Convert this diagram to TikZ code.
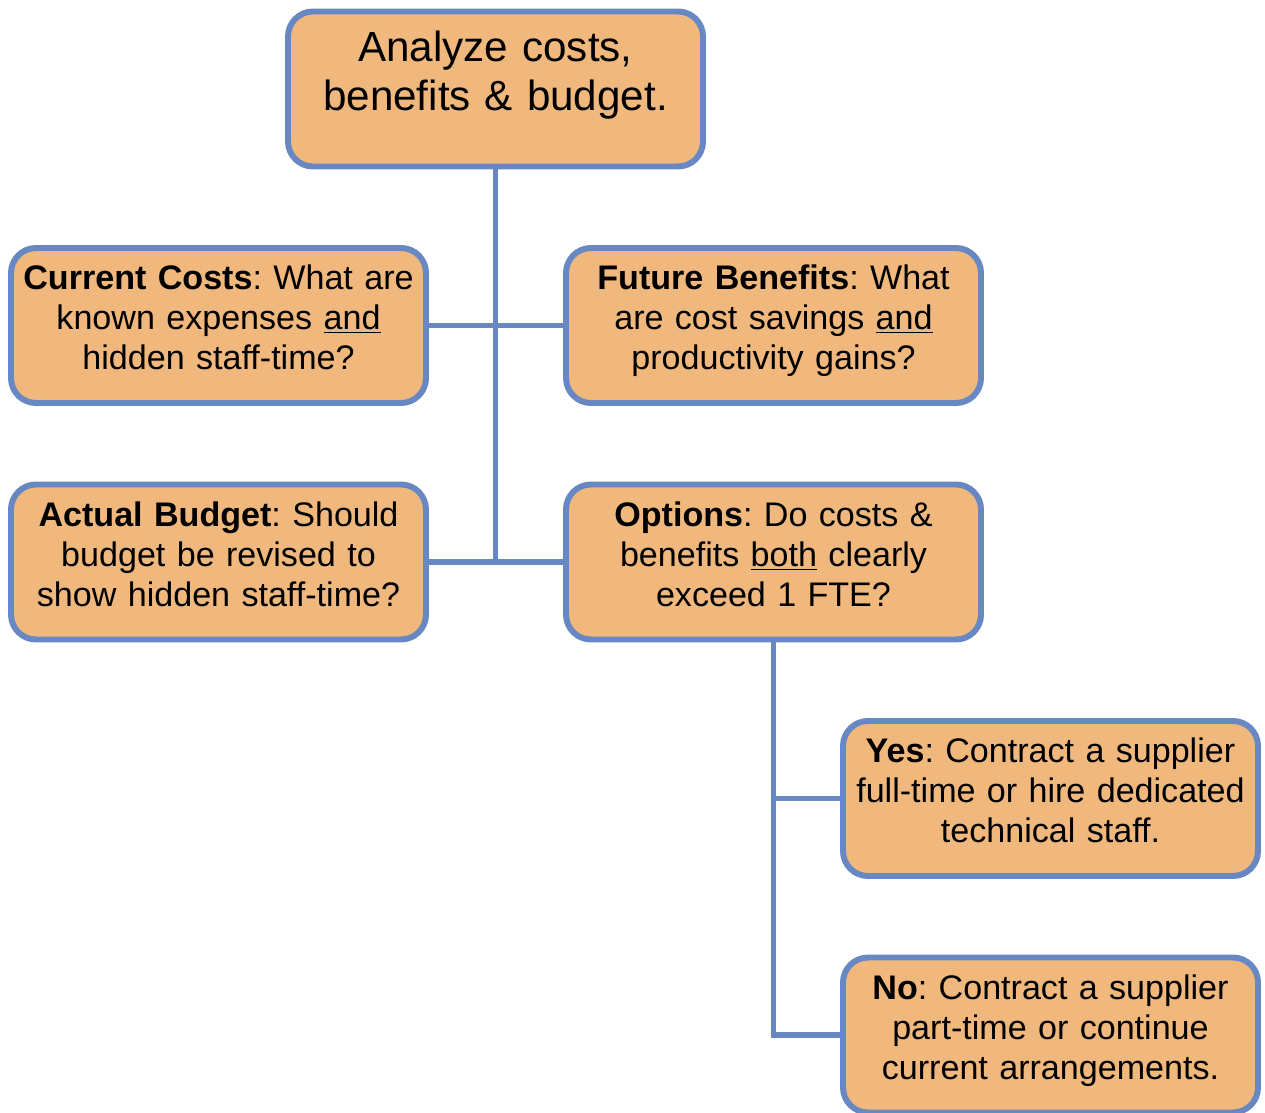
\documentclass[tikz,border=0pt]{standalone}
\usepackage{fontspec}
\setmainfont{Liberation Sans}
\usepackage{tikz}
\definecolor{boxfill}{RGB}{240,184,124}
\definecolor{boxline}{RGB}{104,136,196}
\frenchspacing

\begin{document}
\begin{tikzpicture}[
    box/.style={draw=boxline,fill=boxfill,line width=3.4pt,rounded corners=0.5cm,
      minimum width=8.3cm,minimum height=3.1cm,text width=8.1cm,align=center,
      inner xsep=0.05cm,text depth=1.93cm,font=\fontsize{19.4pt}{22.8pt}\selectfont},
    link/.style={draw=boxline,line width=3.4pt}]
  \useasboundingbox (0,0) rectangle (25.3,-22.26);
  % boxes
  \node[box,text depth=1.7cm,font=\fontsize{24pt}{27.8pt}\selectfont] (top) at (9.91,-1.78)
    {Analyze costs,\\benefits \& budget.};
  \node[box] (cur) at (4.37,-6.51)
    {\textbf{Current Costs}: What are\\known expenses \underline{and}\\hidden staff-time?};
  \node[box] (fut) at (15.47,-6.51)
    {\textbf{Future Benefits}: What\\are cost savings \underline{and}\\productivity gains?};
  \node[box] (bud) at (4.37,-11.24)
    {\textbf{Actual Budget}: Should\\budget be revised to\\show hidden staff-time?};
  \node[box] (opt) at (15.47,-11.24)
    {\textbf{Options}: Do costs \&\\benefits \underline{both} clearly\\exceed 1 FTE?};
  \node[box] (yes) at (21.01,-15.97)
    {\textbf{Yes}: Contract a supplier\\full-time or hire dedicated\\technical staff.};
  \node[box] (no) at (21.01,-20.70)
    {\textbf{No}: Contract a supplier\\part-time or continue\\current arrangements.};
  % connectors
  \draw[link] (top.south) -- (top.south |- bud.east);
  \draw[link] (cur.east) -- (fut.west);
  \draw[link] (bud.east) -- (opt.west);
  \draw[link] (opt.south) |- (no.west);
  \draw[link] (opt.south |- yes.west) -- (yes.west);
\end{tikzpicture}
\end{document}
